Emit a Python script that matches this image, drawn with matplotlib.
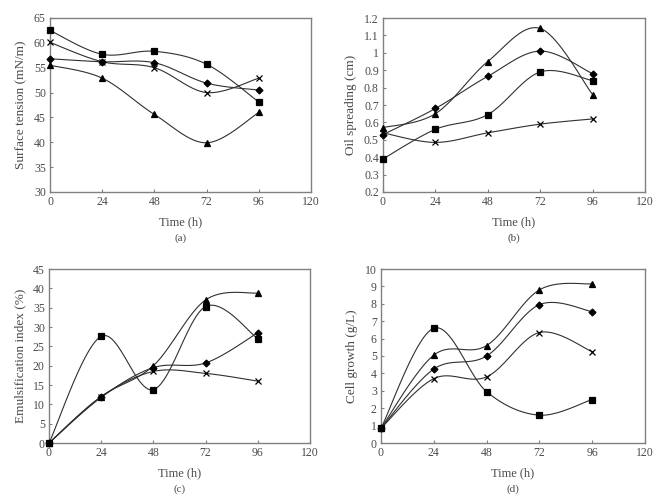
import matplotlib
matplotlib.use('Agg')
import matplotlib.pyplot as plt
import numpy as np

# данные
time_h = [0, 24, 48, 72, 96]

tension_square = [62.5, 57.7, 58.3, 55.7, 48.1]
tension_cross = [60.1, 56.2, 55.0, 50.0, 52.9]
tension_diamond = [56.8, 56.2, 56.0, 51.9, 50.5]
tension_triangle = [55.5, 52.9, 45.6, 39.9, 46.0]

spread_square = [0.39, 0.56, 0.645, 0.89, 0.84]
spread_cross = [0.54, 0.485, 0.54, 0.59, 0.62]
spread_diamond = [0.53, 0.68, 0.865, 1.01, 0.88]
spread_triangle = [0.57, 0.65, 0.95, 1.14, 0.76]

emuls_square = [0, 27.6, 13.8, 35.3, 27.0]
emuls_cross = [0, 12.0, 18.5, 18.0, 16.0]
emuls_diamond = [0, 11.8, 19.5, 20.7, 28.5]
emuls_triangle = [0, 12.0, 20.0, 37.0, 38.8]

growth_square = [0.85, 6.6, 2.95, 1.6, 2.5]
growth_cross = [0.85, 3.7, 3.8, 6.35, 5.25]
growth_diamond = [0.85, 4.25, 5.0, 7.95, 7.55]
growth_triangle = [0.85, 5.05, 5.6, 8.8, 9.15]

plt.rcParams['font.family'] = ['Liberation Serif', 'DejaVu Serif']
plt.rcParams['font.size'] = 8
text_col = '#4a4a4a'
spine_col = '#808080'


# сглаживание как в Excel (кубические кривые Безье)
def smooth(x, y, n=30):
    x = np.asarray(x, float)
    y = np.asarray(y, float)
    px = np.concatenate([[x[0]], x, [x[-1]]])
    py = np.concatenate([[y[0]], y, [y[-1]]])
    xs, ys = [], []
    t = np.linspace(0, 1, n)
    for i in range(1, len(x)):
        p0 = np.array([px[i], py[i]])
        p3 = np.array([px[i + 1], py[i + 1]])
        c1 = p0 + (np.array([px[i + 1], py[i + 1]]) - np.array([px[i - 1], py[i - 1]])) / 6
        c2 = p3 - (np.array([px[i + 2], py[i + 2]]) - np.array([px[i], py[i]])) / 6
        for tt in t:
            b = ((1 - tt) ** 3 * p0 + 3 * (1 - tt) ** 2 * tt * c1
                 + 3 * (1 - tt) * tt ** 2 * c2 + tt ** 3 * p3)
            xs.append(b[0])
            ys.append(b[1])
    return xs, ys


def panel(ax, series, ylim, ystep, ylabel, letter):
    for y, m, ms in series:
        sx, sy = smooth(time_h, y)
        ax.plot(sx, sy, color='#303030', lw=0.8, zorder=2)
        ax.plot(time_h, y, linestyle='none', marker=m, ms=ms, color='black',
                mew=0.9, zorder=3, clip_on=False)
    ax.set_xlim(0, 120)
    ax.set_ylim(*ylim)
    ax.set_xticks([0, 24, 48, 72, 96, 120])
    ax.set_yticks(np.arange(ylim[0], ylim[1] + ystep / 2, ystep))
    ax.set_xlabel('Time (h)', color=text_col, fontsize=9, labelpad=6)
    ax.set_ylabel(ylabel, color=text_col, fontsize=9.5, labelpad=5)
    ax.tick_params(direction='in', length=2.5, width=0.8, colors=spine_col,
                   labelcolor=text_col, labelsize=8.5, pad=3)
    for s in ax.spines.values():
        s.set_color(spine_col)
        s.set_linewidth(1.0)
    ax.text(0.5, -0.265, letter, transform=ax.transAxes, ha='center', va='center',
            color=text_col, fontsize=8)


fig = plt.figure(figsize=(6.66, 5.03), dpi=100)
W, H = 666, 503
ax_a = fig.add_axes([50 / W, 1 - 192 / H, 261 / W, 174 / H])
ax_b = fig.add_axes([383 / W, 1 - 192 / H, 262 / W, 174 / H])
ax_c = fig.add_axes([49 / W, 1 - 443 / H, 261 / W, 174 / H])
ax_d = fig.add_axes([381 / W, 1 - 443 / H, 264 / W, 174 / H])

panel(ax_a, [(tension_square, 's', 4.5), (tension_cross, 'x', 5),
             (tension_diamond, 'D', 3.5), (tension_triangle, '^', 5)],
      (30, 65), 5, 'Surface tension (mN/m)', '(a)')
panel(ax_b, [(spread_square, 's', 4.5), (spread_cross, 'x', 5),
             (spread_diamond, 'D', 3.5), (spread_triangle, '^', 5)],
      (0.2, 1.2), 0.1, 'Oil spreading (cm)', '(b)')
ax_b.set_yticklabels(['0.2', '0.3', '0.4', '0.5', '0.6', '0.7', '0.8', '0.9', '1', '1.1', '1.2'])
panel(ax_c, [(emuls_square, 's', 4.5), (emuls_cross, 'x', 5),
             (emuls_diamond, 'D', 3.5), (emuls_triangle, '^', 5)],
      (0, 45), 5, 'Emulsification index (%)', '(c)')
panel(ax_d, [(growth_square, 's', 4.5), (growth_cross, 'x', 5),
             (growth_diamond, 'D', 3.5), (growth_triangle, '^', 5)],
      (0, 10), 1, 'Cell growth (g/L)', '(d)')

plt.savefig('out.png', dpi=100)
